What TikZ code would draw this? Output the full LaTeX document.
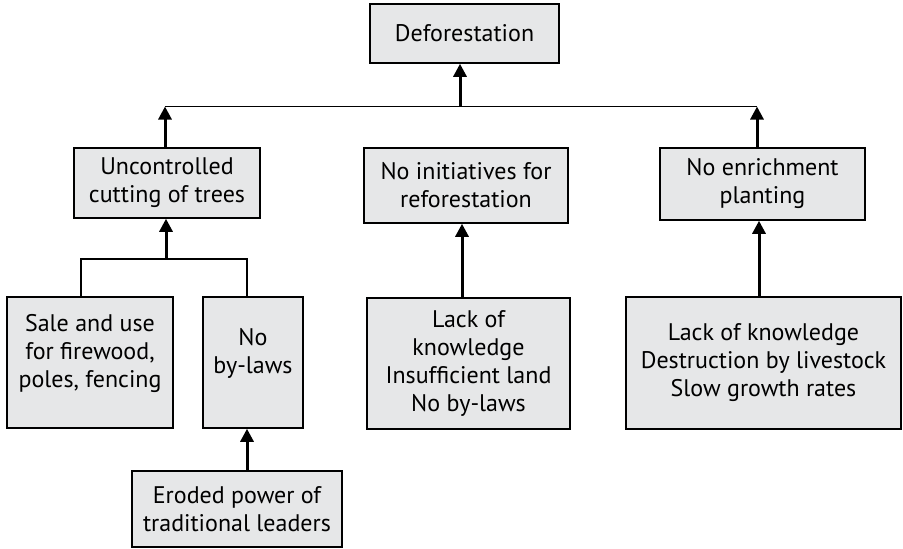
\documentclass[tikz,border=0pt]{standalone}
\usepackage{fontspec}
\setmainfont{PT Sans}
\usetikzlibrary{arrows.meta}
\definecolor{boxgray}{RGB}{230,231,232}
\newcommand{\liftup}{\rule[-12pt]{0pt}{0pt}}

\begin{document}
\begin{tikzpicture}[x=0.5pt, y=-0.5pt,
	cause/.style={draw, line width=0.75pt, fill=boxgray, align=center, inner sep=0pt, font=\fontsize{12}{14}\selectfont},
	link/.style={line width=0.75pt},
	up/.style={line width=1.5pt, -{Triangle[length=6.5pt, width=6.5pt]}}]
	\useasboundingbox (0,0) rectangle (903,548);
	\node[cause, minimum width=94.5pt, minimum height=29.5pt] (defo) at (464.5,33.5) {Deforestation};
	\node[cause, minimum width=93pt, minimum height=35pt] (unc) at (167,183) {Uncontrolled\\cutting of trees};
	\node[cause, minimum width=102pt, minimum height=37.5pt] (init) at (466,185.5) {No initiatives for\\reforestation};
	\node[cause, minimum width=102.5pt, minimum height=36pt] (enr) at (762.5,184) {No enrichment\\planting};
	\node[cause, minimum width=83pt, minimum height=65.5pt] (sale) at (90,362.5) {Sale and use\\for firewood,\\poles, fencing\liftup};
	\node[cause, minimum width=50pt, minimum height=65.5pt] (nob) at (253,362.5) {No\\by-laws\liftup};
	\node[cause, minimum width=105pt, minimum height=38pt] (ero) at (237,509) {Eroded power of\\traditional leaders};
	\node[cause, minimum width=101.5pt, minimum height=65.5pt] (lack) at (468.5,363.5) {Lack of\\knowledge\\Insufficient land\\No by-laws};
	\node[cause, minimum width=137.5pt, minimum height=66pt] (lackr) at (763.5,363) {Lack of knowledge\\Destruction by livestock\\Slow growth rates};
	\coordinate (jl) at (165,106.5);
	\coordinate (jc) at (460,106.5);
	\coordinate (jr) at (757,106.5);
	\coordinate (bl) at (81,259);
	\coordinate (bc) at (166,259);
	\coordinate (br) at (247,259);
	\draw[link] (jl) -- (jr);
	\draw[up] (jc) -- (jc |- defo.south);
	\draw[up] (unc.north -| jl) -- (jl);
	\draw[up] (enr.north -| jr) -- (jr);
	\draw[link] (sale.north -| bl) -- (bl) -- (br) -- (nob.north -| br);
	\draw[up] (bc) -- (bc |- unc.south);
	\draw[up] (ero.north -| br) -- (nob.south -| br);
	\draw[up] (lack.north -| 462,0) -- (init.south -| 462,0);
	\draw[up] (lackr.north -| 759,0) -- (enr.south -| 759,0);
\end{tikzpicture}
\end{document}
